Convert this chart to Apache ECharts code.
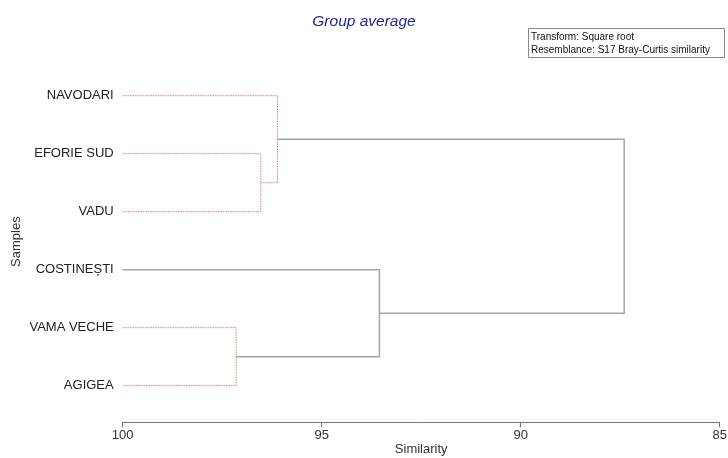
<!DOCTYPE html>
<html>
<head>
<meta charset="utf-8">
<script src="https://cdn.jsdelivr.net/npm/echarts@6/dist/echarts.min.js"></script>
<style>
  html, body { margin: 0; padding: 0; background: #fff; }
  #chart { width: 728px; height: 458px; }
</style>
</head>
<body>
<div id="chart"></div>
<script>
// Samples, top to bottom
var samples = ['NAVODARI', 'EFORIE SUD', 'VADU', 'COSTINEȘTI', 'VAMA VECHE', 'AGIGEA'];
// Linkage: child A, child B (0-5 = samples, 6+ = earlier merges), similarity (%)
var mergeA = [1, 0, 4, 3, 7];
var mergeB = [2, 6, 5, 8, 9];
var mergeSim = [96.53, 96.11, 97.15, 93.55, 87.40];
// Merges whose structure is not supported (drawn red dotted)
var unsupported = [1, 1, 1, 0, 0];
var simTicks = [100, 95, 90, 85];

// Node positions: x = similarity, y = sample index (merges at the mean of children)
var nodeX = samples.map(function () { return 100; });
var nodeY = samples.map(function (_, i) { return i; });
var brackets = [];
for (var m = 0; m < mergeSim.length; m++) {
  var a = mergeA[m], b = mergeB[m], h = mergeSim[m];
  // [childA x, childA y, merge similarity, childB y, childB x, unsupported]
  brackets.push([nodeX[a], nodeY[a], h, nodeY[b], nodeX[b], unsupported[m]]);
  nodeX.push(h);
  nodeY.push((nodeY[a] + nodeY[b]) / 2);
}

function renderBracket(params, api) {
  var p0 = api.coord([api.value(0), api.value(1)]);
  var p1 = api.coord([api.value(2), api.value(1)]);
  var p2 = api.coord([api.value(2), api.value(3)]);
  var p3 = api.coord([api.value(4), api.value(3)]);
  var red = api.value(5) === 1;
  return {
    type: 'polyline',
    shape: { points: [p0, p1, p2, p3] },
    z2: red ? 2 : 1,
    style: red
      ? { fill: null, stroke: '#e07c7c', lineWidth: 1, lineDash: [1.5, 1] }
      : { fill: null, stroke: '#a6a6a6', lineWidth: 1.5 }
  };
}

var chart = echarts.init(document.getElementById('chart'), null, { renderer: 'canvas' });
chart.setOption({
  animation: false,
  backgroundColor: '#ffffff',
  title: {
    text: 'Group average',
    left: 'center',
    top: 9,
    textStyle: { fontFamily: 'Liberation Sans', fontStyle: 'italic', fontWeight: 'normal', fontSize: 15.5, color: '#23239b' }
  },
  graphic: [
    {
      type: 'rect',
      shape: { x: 528.5, y: 28.5, width: 196, height: 29 },
      style: { fill: '#fff', stroke: '#8a8a8a', lineWidth: 1 }
    },
    {
      type: 'text',
      x: 531, y: 31,
      style: {
        text: 'Transform: Square root\nResemblance: S17 Bray-Curtis similarity',
        font: '10px "Liberation Sans"',
        lineHeight: 12.5,
        fill: '#111'
      }
    }
  ],
  grid: { left: 122.7, right: 8.3, top: 60.9, bottom: 35.7, containLabel: false, outerBoundsMode: 'none' },
  xAxis: {
    type: 'value',
    inverse: true,
    min: 85,
    max: 100,
    interval: 5,
    name: 'Similarity',
    nameLocation: 'middle',
    nameGap: 21,
    nameMoveOverlap: false,
    nameTextStyle: { fontFamily: 'Liberation Sans', fontSize: 13, color: '#333' },
    axisLine: { show: true, onZero: false, lineStyle: { color: '#777', width: 1 } },
    axisTick: { show: true, length: 5, lineStyle: { color: '#777' } },
    axisLabel: {
      fontFamily: 'Liberation Sans', fontSize: 13, color: '#333', margin: 7,
      formatter: function (v) { return simTicks.indexOf(v) >= 0 ? String(v) : ''; }
    },
    splitLine: { show: false }
  },
  yAxis: {
    type: 'value',
    inverse: true,
    min: -0.6,
    max: 5.631,
    name: 'Samples',
    nameLocation: 'middle',
    nameGap: 100,
    nameRotate: 90,
    nameMoveOverlap: false,
    nameTextStyle: { fontFamily: 'Liberation Sans', fontSize: 13, color: '#333' },
    axisLine: { show: false, onZero: false },
    axisTick: { show: false },
    splitLine: { show: false },
    axisLabel: {
      customValues: samples.map(function (_, i) { return i; }),
      fontFamily: 'Liberation Sans', fontSize: 13, color: '#222', margin: 9,
      formatter: function (v) { return samples[Math.round(v)]; }
    }
  },
  series: [{
    type: 'custom',
    silent: true,
    renderItem: renderBracket,
    encode: { x: [0, 2, 4], y: [1, 3] },
    data: brackets
  }]
});
</script>
</body>
</html>
